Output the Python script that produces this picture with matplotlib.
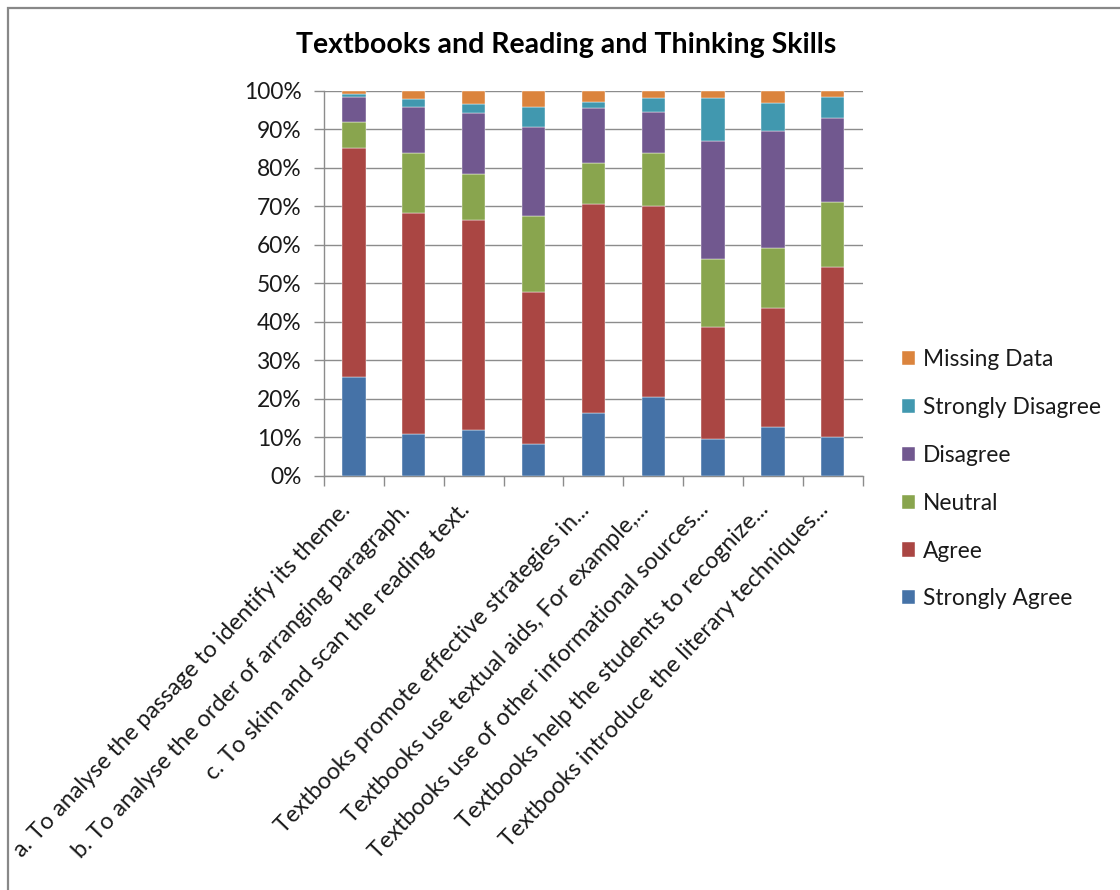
import matplotlib
matplotlib.use("Agg")
import matplotlib.pyplot as plt
import numpy as np
from matplotlib.patches import Rectangle
from matplotlib.transforms import IdentityTransform
from matplotlib.ticker import PercentFormatter, FixedLocator

plt.rcParams['font.family'] = ['Lato', 'DejaVu Sans']

categories = [
    "a. To analyse the passage to identify its theme.",
    "b. To analyse the order of arranging paragraph.",
    "c. To skim and scan the reading text.",
    "",
    "Textbooks promote effective strategies in...",
    "Textbooks use textual aids, For example,...",
    "Textbooks use of other informational sources...",
    "Textbooks help the students to recognize...",
    "Textbooks introduce the literary techniques...",
]

strongly_agree    = [25.5, 10.9, 11.8,  8.2, 16.2, 20.4,  9.5, 12.5,  9.9]
agree             = [59.6, 57.2, 54.7, 39.6, 54.3, 49.7, 29.0, 31.0, 44.3]
neutral           = [ 6.7, 15.7, 11.9, 19.6, 10.6, 13.7, 17.7, 15.7, 17.0]
disagree          = [ 6.6, 12.0, 15.7, 23.1, 14.3, 10.7, 30.6, 30.2, 21.6]
strongly_disagree = [ 0.7,  2.0,  2.4,  5.3,  1.7,  3.7, 11.4,  7.4,  5.6]
missing_data      = [ 0.9,  2.2,  3.5,  4.2,  2.9,  1.8,  1.8,  3.2,  1.6]

series_names = ["Strongly Agree", "Agree", "Neutral", "Disagree",
                "Strongly Disagree", "Missing Data"]
series_values = [strongly_agree, agree, neutral, disagree,
                 strongly_disagree, missing_data]
colors = ["#4572A7", "#AA4643", "#89A54E", "#71588F", "#4198AF", "#DB843D"]

W, H = 1120, 890
fig = plt.figure(figsize=(W / 100, H / 100), dpi=100)
fig.patch.set_facecolor("white")

ax = fig.add_axes([324 / W, 1 - 475.5 / H, (862.7 - 324) / W, (475.5 - 90.7) / H])

x = np.arange(len(categories))
data = np.array(series_values, dtype=float)
totals = data.sum(axis=0)
pct = data / totals * 100
bottom = np.zeros(len(categories))
handles = []
for name, vals, col in zip(series_names, pct, colors):
    b = ax.bar(x, vals, bottom=bottom, width=0.39, color=col, label=name,
               edgecolor="white", linewidth=0.3, zorder=3)
    handles.append(b)
    bottom += vals

ax.set_xlim(-0.5, len(categories) - 0.5)
ax.set_ylim(0, 100)
ax.yaxis.set_major_locator(FixedLocator(np.arange(0, 101, 10)))
ax.yaxis.set_major_formatter(PercentFormatter(decimals=0))
ax.grid(axis="y", color="#8C8C8C", linewidth=1.0, zorder=0)
ax.set_axisbelow(True)

for s in ["top", "right"]:
    ax.spines[s].set_visible(False)
for s in ["left", "bottom"]:
    ax.spines[s].set_color("#8C8C8C")
    ax.spines[s].set_linewidth(1.0)

ax.tick_params(axis="y", which="major", length=7, width=1.0, color="#8C8C8C",
               labelsize=16.4, pad=9, labelcolor="#1a1a1a")
ax.set_xticks(x)
ax.set_xticks(np.arange(-0.5, len(categories), 1.0), minor=True)
ax.tick_params(axis="x", which="major", length=0, pad=17)
ax.tick_params(axis="x", which="minor", length=7, width=1.0, color="#8C8C8C")
ax.set_xticklabels(categories, rotation=46.5, ha="right", va="top",
                   fontsize=16.8, color="#1a1a1a", rotation_mode="default")

fig.text(566 / W, 1 - 45 / H, "Textbooks and Reading and Thinking Skills",
         ha="center", va="center", fontsize=20.5, fontweight="bold", color="black")

leg = fig.legend(handles[::-1], series_names[::-1],
                 loc="upper left", bbox_to_anchor=(902 / W, 1 - 349 / H),
                 frameon=False, fontsize=16.4, handlelength=0.58, handleheight=0.58,
                 handletextpad=0.34, labelspacing=1.18, borderpad=0, borderaxespad=0)
for t in leg.get_texts():
    t.set_color("#1a1a1a")

border = Rectangle((8, -20), W + 20, H - 8 + 20, fill=False,
                   edgecolor="#888888", linewidth=1.6)
border.set_transform(IdentityTransform())
fig.patches.append(border)

fig.savefig("out.png", dpi=100)
